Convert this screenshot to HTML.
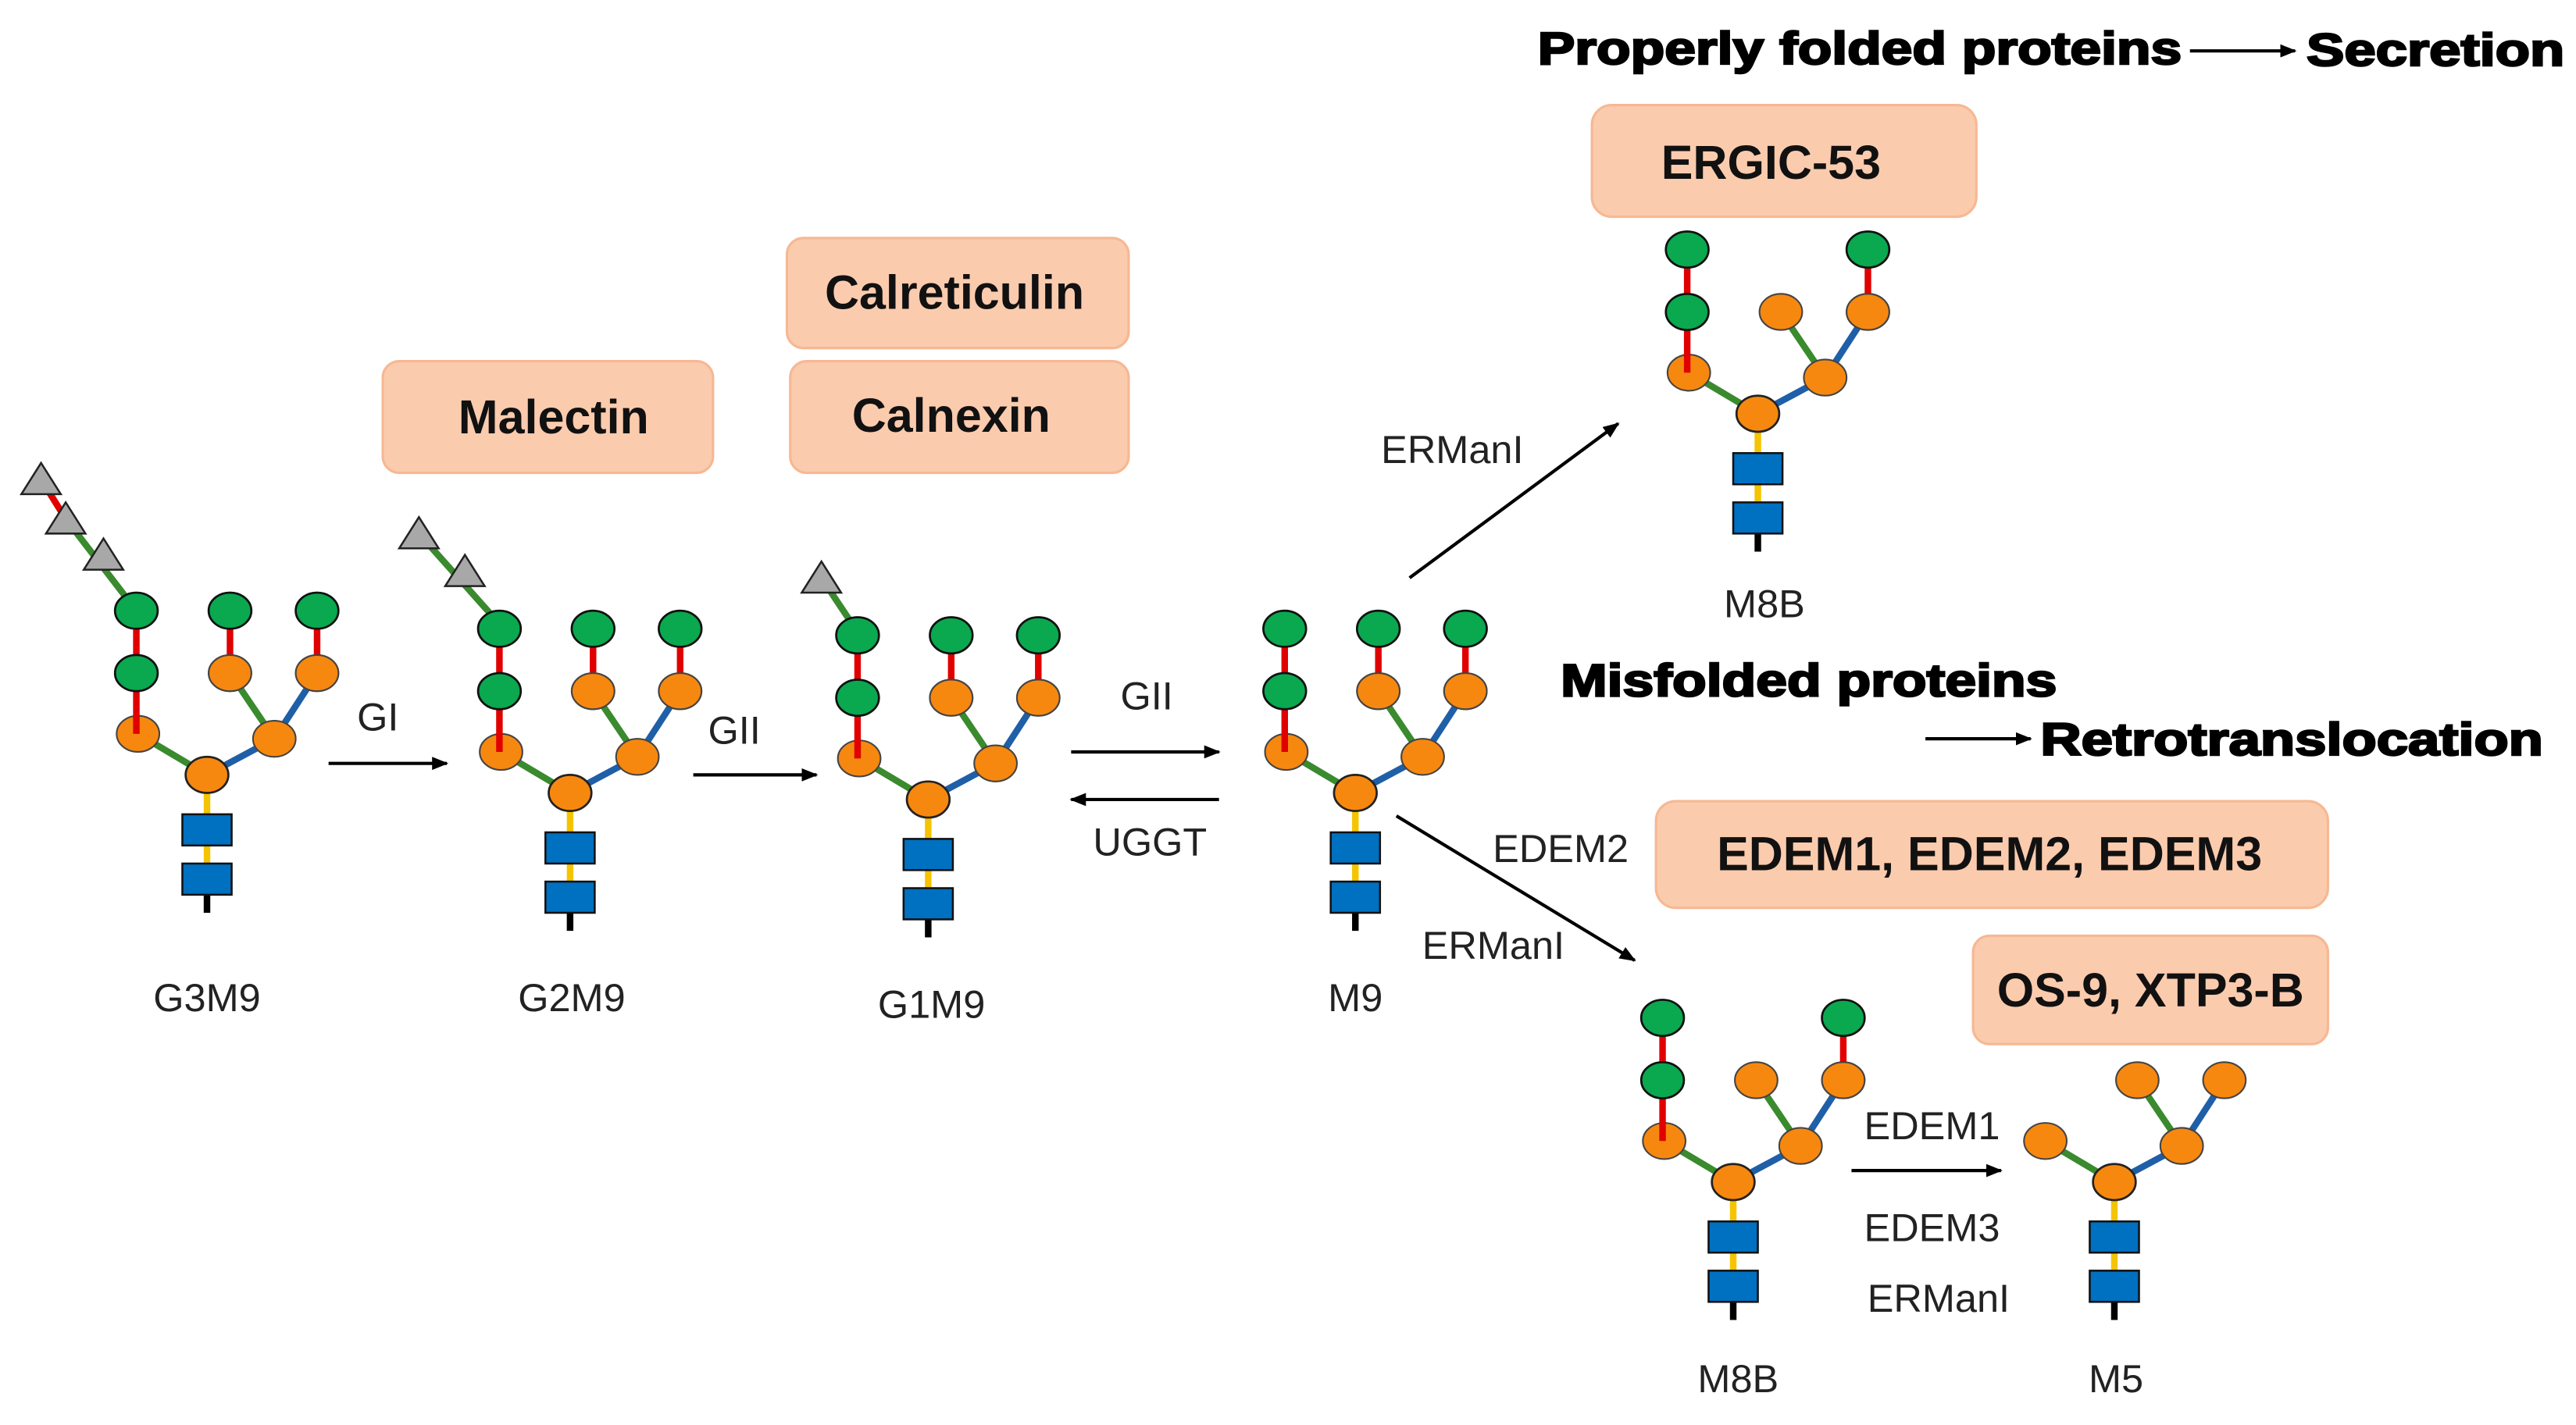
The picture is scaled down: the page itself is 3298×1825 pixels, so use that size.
<!DOCTYPE html>
<html><head><meta charset="utf-8"><style>
html,body{margin:0;padding:0;background:#fff;}
svg{display:block;}
.lab{font-family:"Liberation Sans",sans-serif;font-size:24px;fill:#222;}
.box{fill:#fbcbae;stroke:#f6b893;stroke-width:1.5;}
.bt{font-family:"Liberation Sans",sans-serif;font-weight:bold;font-size:29px;fill:#111;}
.hd{font-family:"Liberation Sans",sans-serif;font-weight:bold;font-size:28px;fill:#000;stroke:#000;stroke-width:1.2;}
</style></head><body>
<svg width="3298" height="1825" viewBox="0 0 1568 868" preserveAspectRatio="none" xmlns="http://www.w3.org/2000/svg">
<defs>
<marker id="ah" markerWidth="10" markerHeight="10" refX="9" refY="5" orient="auto" markerUnits="userSpaceOnUse"><path d="M0,1 L10,5 L0,9 z" fill="#000"/></marker>
<g id="core">
<line x1="0" y1="0" x2="0" y2="70" stroke="#f5c400" stroke-width="4"/>
<line x1="0" y1="70" x2="0" y2="84" stroke="#000" stroke-width="4"/>
<line x1="0" y1="0" x2="-42" y2="-25" stroke="#3a8a2e" stroke-width="4"/>
<line x1="0" y1="0" x2="41" y2="-22" stroke="#1f5fa8" stroke-width="4"/>
<line x1="41" y1="-22" x2="14" y2="-62" stroke="#3a8a2e" stroke-width="4"/>
<line x1="41" y1="-22" x2="67" y2="-62" stroke="#1f5fa8" stroke-width="4"/>
<rect x="-15" y="24" width="30" height="19" fill="#0070c0" stroke="#111" stroke-width="1.2"/>
<rect x="-15" y="54" width="30" height="19" fill="#0070c0" stroke="#111" stroke-width="1.2"/>
<ellipse cx="0" cy="0" rx="13" ry="11" fill="#f7880f" stroke="#222" stroke-width="1.3"/>
<ellipse cx="-42" cy="-25" rx="13" ry="11" fill="#f7880f" stroke="#444" stroke-width="1"/>
<ellipse cx="41" cy="-22" rx="13" ry="11" fill="#f7880f" stroke="#444" stroke-width="1"/>
<ellipse cx="14" cy="-62" rx="13" ry="11" fill="#f7880f" stroke="#444" stroke-width="1"/>
<ellipse cx="67" cy="-62" rx="13" ry="11" fill="#f7880f" stroke="#444" stroke-width="1"/>
</g>
<g id="lg">
<line x1="-43" y1="-25" x2="-43" y2="-100" stroke="#e00000" stroke-width="4"/>
<ellipse cx="-43" cy="-62" rx="13" ry="11" fill="#0aa84f" stroke="#111" stroke-width="1.3"/>
<ellipse cx="-43" cy="-100" rx="13" ry="11" fill="#0aa84f" stroke="#111" stroke-width="1.3"/>
</g>
<g id="mg">
<line x1="14" y1="-62" x2="14" y2="-100" stroke="#e00000" stroke-width="4"/>
<ellipse cx="14" cy="-62" rx="13" ry="11" fill="#f7880f" stroke="#444" stroke-width="1"/>
<ellipse cx="14" cy="-100" rx="13" ry="11" fill="#0aa84f" stroke="#111" stroke-width="1.3"/>
</g>
<g id="rg">
<line x1="67" y1="-62" x2="67" y2="-100" stroke="#e00000" stroke-width="4"/>
<ellipse cx="67" cy="-62" rx="13" ry="11" fill="#f7880f" stroke="#444" stroke-width="1"/>
<ellipse cx="67" cy="-100" rx="13" ry="11" fill="#0aa84f" stroke="#111" stroke-width="1.3"/>
</g>
<path id="tri" d="M0,-10 L12,9 L-12,9 z" fill="#a8a8a8" stroke="#222" stroke-width="1.2"/>
</defs>

<!-- G3M9 -->
<line x1="25" y1="292" x2="40" y2="316" stroke="#e00000" stroke-width="4"/>
<line x1="40" y1="316" x2="83" y2="372" stroke="#3a8a2e" stroke-width="4"/>
<use href="#core" x="126" y="472"/><use href="#lg" x="126" y="472"/><use href="#mg" x="126" y="472"/><use href="#rg" x="126" y="472"/>
<use href="#tri" x="25" y="292"/><use href="#tri" x="40" y="316"/><use href="#tri" x="63" y="338"/>
<text class="lab" x="126" y="616" text-anchor="middle">G3M9</text>

<!-- G2M9 -->
<line x1="255" y1="325" x2="304" y2="380" stroke="#3a8a2e" stroke-width="4"/>
<use href="#core" x="347" y="483"/><use href="#lg" x="347" y="483"/><use href="#mg" x="347" y="483"/><use href="#rg" x="347" y="483"/>
<use href="#tri" x="255" y="325"/><use href="#tri" x="283" y="348"/>
<text class="lab" x="348" y="616" text-anchor="middle">G2M9</text>

<!-- G1M9 -->
<line x1="500" y1="352" x2="522" y2="385" stroke="#3a8a2e" stroke-width="4"/>
<use href="#core" x="565" y="487"/><use href="#lg" x="565" y="487"/><use href="#mg" x="565" y="487"/><use href="#rg" x="565" y="487"/>
<use href="#tri" x="500" y="352"/>
<text class="lab" x="567" y="620" text-anchor="middle">G1M9</text>

<!-- M9 -->
<use href="#core" x="825" y="483"/><use href="#lg" x="825" y="483"/><use href="#mg" x="825" y="483"/><use href="#rg" x="825" y="483"/>
<text class="lab" x="825" y="616" text-anchor="middle">M9</text>

<!-- M8B top -->
<use href="#core" x="1070" y="252"/><use href="#lg" x="1070" y="252"/><use href="#rg" x="1070" y="252"/>
<text class="lab" x="1074" y="376" text-anchor="middle">M8B</text>

<!-- M8B bottom -->
<use href="#core" x="1055" y="720"/><use href="#lg" x="1055" y="720"/><use href="#rg" x="1055" y="720"/>
<text class="lab" x="1058" y="848" text-anchor="middle">M8B</text>

<!-- M5 -->
<use href="#core" x="1287" y="720"/>
<text class="lab" x="1288" y="848" text-anchor="middle">M5</text>

<!-- arrows -->
<g stroke="#000" stroke-width="2" fill="none">
<line x1="200" y1="465" x2="272" y2="465" marker-end="url(#ah)"/>
<line x1="422" y1="472" x2="497" y2="472" marker-end="url(#ah)"/>
<line x1="652" y1="458" x2="742" y2="458" marker-end="url(#ah)"/>
<line x1="742" y1="487" x2="652" y2="487" marker-end="url(#ah)"/>
<line x1="858" y1="352" x2="985" y2="258" marker-end="url(#ah)"/>
<line x1="850" y1="497" x2="995" y2="585" marker-end="url(#ah)"/>
<line x1="1127" y1="713" x2="1218" y2="713" marker-end="url(#ah)"/>
<line x1="1333" y1="31" x2="1397" y2="31" marker-end="url(#ah)"/>
<line x1="1172" y1="450" x2="1236" y2="450" marker-end="url(#ah)"/>
</g>
<text class="lab" x="230" y="445" text-anchor="middle">GI</text>
<text class="lab" x="447" y="453" text-anchor="middle">GII</text>
<text class="lab" x="698" y="432" text-anchor="middle">GII</text>
<text class="lab" x="700" y="521" text-anchor="middle">UGGT</text>
<text class="lab" x="884" y="282" text-anchor="middle">ERManI</text>
<text class="lab" x="950" y="525" text-anchor="middle">EDEM2</text>
<text class="lab" x="909" y="584" text-anchor="middle">ERManI</text>
<text class="lab" x="1176" y="694" text-anchor="middle">EDEM1</text>
<text class="lab" x="1176" y="756" text-anchor="middle">EDEM3</text>
<text class="lab" x="1180" y="799" text-anchor="middle">ERManI</text>

<!-- boxes -->
<rect class="box" x="233" y="220" width="201" height="68" rx="10"/>
<text class="bt" x="337" y="264" text-anchor="middle">Malectin</text>
<rect class="box" x="479" y="145" width="208" height="67" rx="10"/>
<text class="bt" x="581" y="188" text-anchor="middle">Calreticulin</text>
<rect class="box" x="481" y="220" width="206" height="68" rx="10"/>
<text class="bt" x="579" y="263" text-anchor="middle">Calnexin</text>
<rect class="box" x="969" y="64" width="234" height="68" rx="12"/>
<text class="bt" x="1078" y="109" text-anchor="middle">ERGIC-53</text>
<rect class="box" x="1008" y="488" width="409" height="65" rx="12"/>
<text class="bt" x="1211" y="530" text-anchor="middle">EDEM1, EDEM2, EDEM3</text>
<rect class="box" x="1201" y="570" width="216" height="66" rx="10"/>
<text class="bt" x="1309" y="613" text-anchor="middle">OS-9, XTP3-B</text>

<!-- headings -->
<text class="hd" x="936" y="39" textLength="392" lengthAdjust="spacingAndGlyphs">Properly folded proteins</text>
<text class="hd" x="1404" y="40" textLength="157" lengthAdjust="spacingAndGlyphs">Secretion</text>
<text class="hd" x="950" y="424" textLength="302" lengthAdjust="spacingAndGlyphs">Misfolded proteins</text>
<text class="hd" x="1242" y="460" textLength="306" lengthAdjust="spacingAndGlyphs">Retrotranslocation</text>
</svg>
</body></html>
